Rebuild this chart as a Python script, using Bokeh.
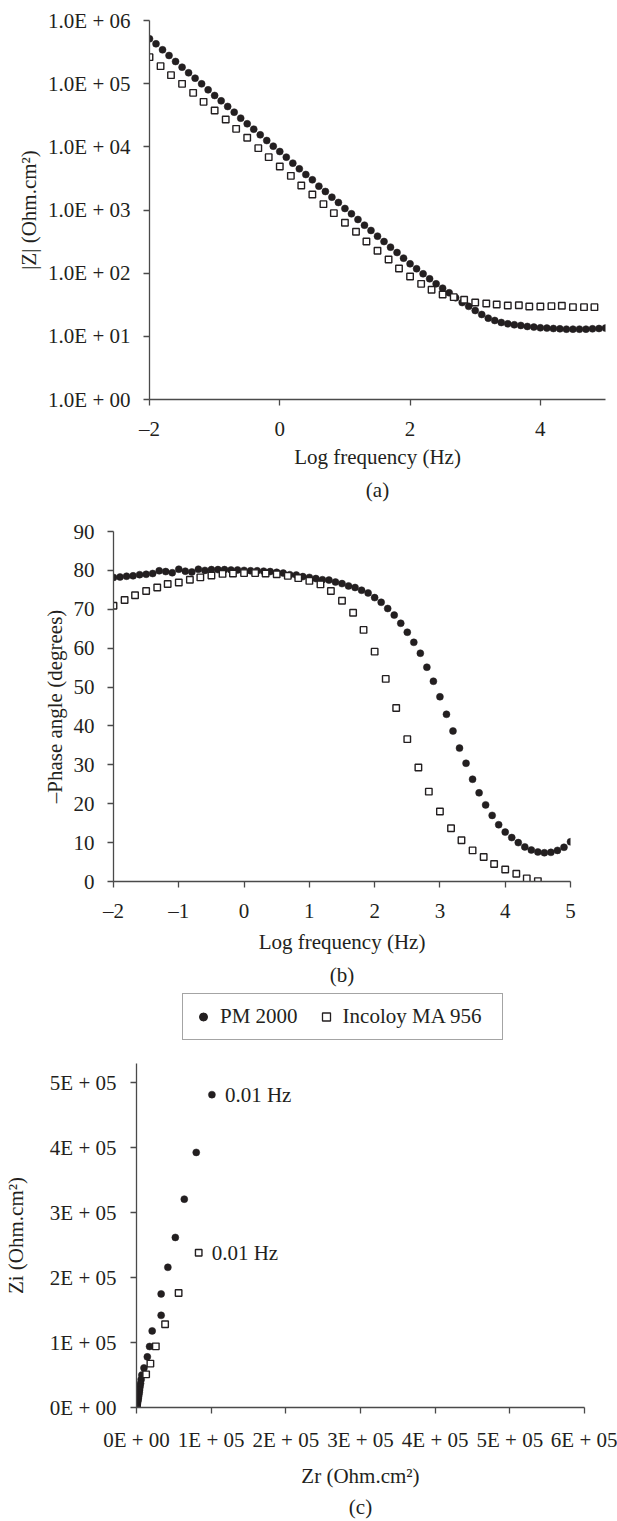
from bokeh.plotting import figure
from bokeh.models import FixedTicker, Title, Legend, LegendItem, Range1d
from bokeh.embed import file_html
from bokeh.resources import INLINE
from bokeh.core.properties import value

# ---------------- data ----------------
logf_pm = [-2.0, -1.9, -1.8, -1.7, -1.6, -1.5, -1.4, -1.3, -1.2, -1.1, -1.0, -0.9, -0.8, -0.7,
           -0.6, -0.5, -0.4, -0.3, -0.2, -0.1, 0.0, 0.1, 0.2, 0.3, 0.4, 0.5, 0.6, 0.7, 0.8, 0.9,
           1.0, 1.1, 1.2, 1.3, 1.4, 1.5, 1.6, 1.7, 1.8, 1.9, 2.0, 2.1, 2.2, 2.3, 2.4, 2.5, 2.6,
           2.7, 2.8, 2.9, 3.0, 3.1, 3.2, 3.3, 3.4, 3.5, 3.6, 3.7, 3.8, 3.9, 4.0, 4.1, 4.2, 4.3,
           4.4, 4.5, 4.6, 4.7, 4.8, 4.9, 5.0]
logf_in = [-2.0, -1.83, -1.67, -1.5, -1.33, -1.17, -1.0, -0.83, -0.67, -0.5, -0.33, -0.17, 0.0,
           0.17, 0.33, 0.5, 0.67, 0.83, 1.0, 1.17, 1.33, 1.5, 1.67, 1.83, 2.0, 2.17, 2.33, 2.5,
           2.67, 2.83, 3.0, 3.17, 3.33, 3.5, 3.67, 3.83, 4.0, 4.17, 4.33, 4.5, 4.67, 4.83]

# log10 |Z| (Ohm.cm2)
log_z_pm = [5.710, 5.631, 5.536, 5.446, 5.351, 5.261, 5.172, 5.087, 4.997, 4.902, 4.813, 4.728,
            4.639, 4.549, 4.454, 4.365, 4.280, 4.190, 4.100, 4.011, 3.926, 3.837, 3.742, 3.652,
            3.562, 3.478, 3.377, 3.293, 3.203, 3.119, 3.024, 2.940, 2.850, 2.760, 2.676, 2.586,
            2.501, 2.412, 2.327, 2.238, 2.148, 2.070, 1.990, 1.911, 1.831, 1.762, 1.690, 1.610,
            1.535, 1.475, 1.409, 1.346, 1.288, 1.251, 1.219, 1.198, 1.183, 1.172, 1.156, 1.146,
            1.135, 1.130, 1.124, 1.119, 1.114, 1.114, 1.114, 1.114, 1.119, 1.124, 1.130]
log_z_in = [5.420, 5.277, 5.135, 4.997, 4.855, 4.712, 4.575, 4.433, 4.285, 4.143, 3.979, 3.837,
            3.689, 3.541, 3.388, 3.246, 3.093, 2.950, 2.797, 2.655, 2.501, 2.354, 2.217, 2.074,
            1.947, 1.831, 1.737, 1.663, 1.620, 1.578, 1.536, 1.520, 1.504, 1.488, 1.493, 1.473,
            1.473, 1.478, 1.483, 1.462, 1.462, 1.462]

# -phase angle (degrees)
phase_pm = [78.2, 78.3, 78.5, 78.6, 78.9, 79.0, 79.2, 79.9, 79.7, 79.4, 80.3, 79.8, 79.6, 80.3,
            80.0, 80.2, 80.2, 80.2, 80.1, 80.1, 80.0, 79.9, 79.9, 79.8, 79.7, 79.5, 79.3, 78.9,
            78.8, 78.4, 78.2, 77.9, 77.6, 77.5, 77.0, 76.6, 76.0, 75.6, 74.9, 74.2, 73.0, 71.8,
            70.2, 68.5, 66.4, 64.1, 61.5, 58.7, 55.1, 51.5, 47.5, 43.0, 38.7, 34.3, 30.4, 26.3,
            22.8, 19.7, 17.0, 14.6, 12.7, 11.3, 10.0, 8.9, 8.1, 7.6, 7.4, 7.5, 8.0, 8.8, 10.2]
phase_in = [70.9, 72.4, 73.6, 74.7, 75.6, 76.5, 76.9, 77.6, 78.2, 78.7, 79.1, 79.2, 79.3, 79.3,
            79.2, 79.0, 78.6, 78.0, 77.3, 76.4, 74.7, 72.2, 69.1, 64.7, 59.1, 52.1, 44.6, 36.6,
            29.3, 23.1, 18.0, 13.7, 10.6, 8.0, 6.3, 4.5, 3.1, 2.0, 0.8, 0.1]

# Nyquist (Ohm.cm2)
zr_pm = [101000, 80000, 64000, 52000, 42000, 33000, 33000, 21000, 17500, 14500, 10000,
         7200, 6200, 5400, 4700, 4100, 3600, 3100, 2700, 2300, 1900, 1600, 1300, 1100,
         900, 700, 500, 400, 300, 200, 100, 50]
zi_pm = [482000, 393000, 321000, 262000, 216000, 175000, 142000, 118000, 94000, 78000, 61000,
         50000, 43000, 37000, 32000, 27000, 23000, 19500, 16500, 14000, 11500, 9500, 7800, 6300,
         5000, 4000, 3000, 2200, 1500, 1000, 500, 200]
zr_in = [83300, 56400, 38300, 25900, 18600, 12900]
zi_in = [238500, 176400, 128300, 94200, 67600, 51100]
nyq_label = ["0.01 Hz"]

series_names = ["PM 2000", "Incoloy MA 956"]

a_x_ticks = [-2, 0, 2, 4]
a_x_labels = ["\u20132", "0", "2", "4"]
a_y_ticks = [1, 10, 100, 1000, 10000, 100000, 1000000]
a_y_labels = ["1.0E + 00", "1.0E + 01", "1.0E + 02", "1.0E + 03", "1.0E + 04", "1.0E + 05", "1.0E + 06"]
b_x_ticks = [-2, -1, 0, 1, 2, 3, 4, 5]
b_x_labels = ["\u20132", "\u20131", "0", "1", "2", "3", "4", "5"]
b_y_ticks = [0, 10, 20, 30, 40, 50, 60, 70, 80, 90]
c_x_ticks = [0, 100000, 200000, 300000, 400000, 500000, 600000]
c_x_labels = ["0E + 00", "1E + 05", "2E + 05", "3E + 05", "4E + 05", "5E + 05", "6E + 05"]
c_y_ticks = [0, 100000, 200000, 300000, 400000, 500000]
c_y_labels = ["0E + 00", "1E + 05", "2E + 05", "3E + 05", "4E + 05", "5E + 05"]

# ---------------- style ----------------
FONT = "Liberation Serif"
INK = "#231f20"
AXC = "#4a4a4a"
FS = "21px"
W = 617


def style(p, xst, yst, xlst, ylst):
    p.grid.visible = False
    p.outline_line_color = None
    p.background_fill_color = "white"
    p.border_fill_color = "white"
    for ax in (p.xaxis[0], p.yaxis[0]):
        ax.axis_line_color = AXC
        ax.axis_line_width = 1.3
        ax.major_tick_line_color = AXC
        ax.major_tick_line_width = 1.3
        ax.major_tick_in = 0
        ax.major_tick_out = 6
        ax.minor_tick_line_color = None
        ax.major_label_text_font = FONT
        ax.major_label_text_font_size = FS
        ax.major_label_text_color = INK
        ax.axis_label_text_font = FONT
        ax.axis_label_text_font_size = FS
        ax.axis_label_text_font_style = "normal"
        ax.axis_label_text_color = INK
    p.xaxis[0].major_label_standoff = xst
    p.yaxis[0].major_label_standoff = yst
    p.xaxis[0].axis_label_standoff = xlst
    p.yaxis[0].axis_label_standoff = ylst


def caption(p, text, standoff):
    t = Title(text=text, align="center", text_font=FONT, text_font_size=FS,
              text_font_style="normal", text_color=INK, standoff=standoff)
    p.add_layout(t, "below")


def circles(p, x, y):
    return p.scatter(x, y, marker="circle", size=7, fill_color=INK, line_color=INK, line_width=0.5)


def squares(p, x, y):
    return p.scatter(x, y, marker="square", size=6.5, fill_color="white", line_color=INK, line_width=1.4)


# ---------------- (a) ----------------
pa = figure(width=W, height=510, y_axis_type="log", x_range=Range1d(-2, 5), y_range=Range1d(1, 1e6),
            toolbar_location=None, output_backend="svg",
            min_border_left=149, min_border_right=12, min_border_top=20, min_border_bottom=111)
circles(pa, logf_pm, [10 ** v for v in log_z_pm])
squares(pa, logf_in, [10 ** v for v in log_z_in])
pa.xaxis[0].ticker = FixedTicker(ticks=a_x_ticks)
pa.xaxis[0].major_label_overrides = dict(zip(a_x_ticks, a_x_labels))
pa.yaxis[0].ticker = FixedTicker(ticks=a_y_ticks)
pa.yaxis[0].major_label_overrides = dict(zip(a_y_ticks, a_y_labels))
pa.xaxis[0].axis_label = "Log frequency (Hz)"
pa.yaxis[0].axis_label = "|Z| (Ohm.cm\u00b2)"
style(pa, 11, 13, 1, 4)
caption(pa, "(a)", 9)

# ---------------- (b) ----------------
pb = figure(width=W, height=480, x_range=Range1d(-2, 5), y_range=Range1d(0, 90),
            toolbar_location=None, output_backend="svg",
            min_border_left=113, min_border_right=47, min_border_top=21, min_border_bottom=107)
circles(pb, logf_pm, phase_pm)
squares(pb, logf_in[:len(phase_in)], phase_in)
pb.xaxis[0].ticker = FixedTicker(ticks=b_x_ticks)
pb.xaxis[0].major_label_overrides = dict(zip(b_x_ticks, b_x_labels))
pb.yaxis[0].ticker = FixedTicker(ticks=b_y_ticks)
pb.xaxis[0].axis_label = "Log frequency (Hz)"
pb.yaxis[0].axis_label = "\u2013Phase angle (degrees)"
style(pb, 11, 13, 4, 4)
caption(pb, "(b)", 8)

# ---------------- legend ----------------
pl = figure(width=W, height=58, x_range=Range1d(0, 1), y_range=Range1d(0, 1),
            toolbar_location=None, output_backend="svg", min_border=0,
            x_axis_location=None, y_axis_location=None)
pl.grid.visible = False
pl.outline_line_color = None
r1 = pl.scatter([-5], [-5], marker="circle", size=9, fill_color=INK, line_color=INK)
r2 = pl.scatter([-5], [-5], marker="square", size=7, fill_color="white", line_color=INK, line_width=1.3)
leg = Legend(items=[LegendItem(label=series_names[0], renderers=[r1]),
                    LegendItem(label=series_names[1] + "\u2002", renderers=[r2])],
             orientation="horizontal", location=(182, 8), padding=10, spacing=18,
             glyph_width=20, glyph_height=25, label_standoff=7,
             label_text_font=FONT, label_text_font_size=FS, label_text_color=INK,
             border_line_color=AXC, border_line_width=1.3, background_fill_alpha=1.0)
pl.add_layout(leg)

# ---------------- (c) ----------------
pc = figure(width=W, height=473, x_range=Range1d(0, 600000), y_range=Range1d(0, 530000),
            toolbar_location=None, output_backend="svg",
            min_border_left=126, min_border_right=33, min_border_top=15, min_border_bottom=106)
circles(pc, zr_pm, zi_pm)
squares(pc, zr_in, zi_in)
pc.text(x=[zr_pm[0], zr_in[0]], y=[zi_pm[0], zi_in[0]], text=nyq_label * 2,
        x_offset=13, text_baseline="middle", text_align="left",
        text_font=value(FONT), text_font_size=FS, text_color=INK)
pc.xaxis[0].ticker = FixedTicker(ticks=c_x_ticks)
pc.xaxis[0].major_label_overrides = dict(zip(c_x_ticks, c_x_labels))
pc.yaxis[0].ticker = FixedTicker(ticks=c_y_ticks)
pc.yaxis[0].major_label_overrides = dict(zip(c_y_ticks, c_y_labels))
pc.xaxis[0].axis_label = "Zr (Ohm.cm\u00b2)"
pc.yaxis[0].axis_label = "Zi (Ohm.cm\u00b2)"
style(pc, 14, 14, 9, 19)
caption(pc, "(c)", 5)

open("out.html", "w").write(file_html([pa, pb, pl, pc], INLINE, title="EIS"))
